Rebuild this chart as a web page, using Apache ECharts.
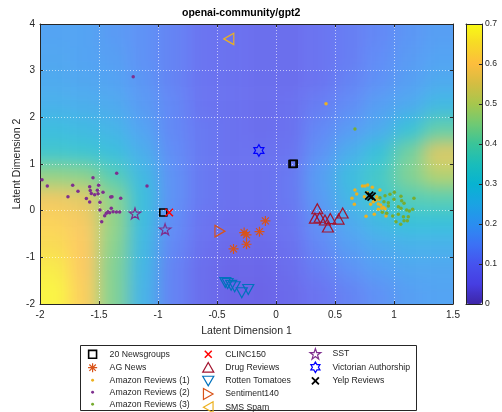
<!DOCTYPE html>
<html>
<head>
<meta charset="utf-8">
<script src="https://cdn.jsdelivr.net/npm/echarts@6/dist/echarts.min.js"></script>
<style>
html,body{margin:0;padding:0;background:#fff;}
#stage{position:relative;width:502px;height:412px;overflow:hidden;background:#fff;}
#bgclip{position:absolute;overflow:hidden;opacity:0.8;}
#bg{position:absolute;filter:blur(9px);}
#main{position:absolute;left:0;top:0;width:502px;height:412px;}
</style>
</head>
<body>
<div id="stage"><div id="bgclip"><div id="bg"></div></div><div id="main"></div></div>
<script>
// ================= DATA =================
const chartTitle = 'openai-community/gpt2';
const xAxisName = 'Latent Dimension 1';
const yAxisName = 'Latent Dimension 2';
const xRange = [-2, 1.5], xStep = 0.5;
const yRange = [-2, 4], yStep = 1;
const colorRange = [0, 0.7], colorStep = 0.1;

// background field: column centres (x) and row centres (y), rows from bottom to top
const fieldX = [-1.875,-1.625,-1.375,-1.125,-0.875,-0.625,-0.375,-0.125,0.125,0.375,0.625,0.875,1.125,1.375];
const fieldY = [-1.75,-1.25,-0.75,-0.25,0.25,0.75,1.25,1.75,2.25,2.75,3.25,3.75];
const fieldRowYm175 = [0.69,0.61,0.44,0.25,0.13,0.08,0.05,0.05,0.07,0.10,0.13,0.16,0.19,0.20];
const fieldRowYm125 = [0.67,0.60,0.44,0.26,0.13,0.08,0.06,0.06,0.08,0.12,0.16,0.19,0.21,0.21];
const fieldRowYm075 = [0.64,0.60,0.45,0.27,0.14,0.09,0.07,0.07,0.09,0.14,0.19,0.22,0.24,0.24];
const fieldRowYm025 = [0.62,0.59,0.46,0.28,0.15,0.10,0.08,0.08,0.10,0.16,0.22,0.27,0.30,0.30];
const fieldRowY025  = [0.58,0.56,0.45,0.29,0.16,0.11,0.09,0.09,0.11,0.18,0.26,0.33,0.38,0.39];
const fieldRowY075  = [0.46,0.45,0.38,0.27,0.16,0.11,0.09,0.09,0.11,0.19,0.28,0.35,0.44,0.50];
const fieldRowY125  = [0.33,0.32,0.29,0.23,0.15,0.11,0.09,0.09,0.10,0.16,0.23,0.30,0.42,0.55];
const fieldRowY175  = [0.28,0.27,0.25,0.20,0.14,0.11,0.09,0.08,0.09,0.14,0.18,0.22,0.30,0.40];
const fieldRowY225  = [0.24,0.23,0.22,0.18,0.14,0.10,0.09,0.08,0.09,0.12,0.15,0.19,0.22,0.27];
const fieldRowY275  = [0.22,0.21,0.20,0.17,0.13,0.10,0.09,0.08,0.08,0.10,0.13,0.16,0.19,0.22];
const fieldRowY325  = [0.21,0.20,0.19,0.16,0.13,0.10,0.09,0.08,0.08,0.10,0.12,0.15,0.18,0.20];
const fieldRowY375  = [0.20,0.20,0.18,0.16,0.13,0.10,0.09,0.08,0.08,0.10,0.12,0.14,0.17,0.19];

// parula-like colour map stops (0 -> 0.7)
const parulaStops = ['#3e26a8','#463ee2','#4653ee','#3b72f5','#2a8ef0','#1aa3e3','#08b3d1','#1abdba',
                     '#3ac499','#70c973','#a6c74d','#d4bd42','#fdbd3d','#f7d926','#f9fb15'];

// scatter series
const ng20 = [[-0.955,-0.04],[0.14,1.0],[0.15,1.005]];
const agNews = [[-0.09,-0.22],[-0.14,-0.45],[-0.27,-0.47],[-0.25,-0.52],[-0.25,-0.72],[-0.36,-0.82]];
const amazon1 = [[0.424,2.29],[0.669,0.443],[0.644,0.264],[0.684,0.357],[0.732,0.529],[0.754,0.529],[0.777,0.55],
  [0.816,0.5],[0.881,0.443],[0.664,0.136],[0.749,0.30],[0.763,-0.12],[0.833,-0.078],[0.802,0.136],[0.825,0.193],
  [0.847,0.229],[0.867,0.143],[0.887,0.121],[0.876,0.243],[0.896,0.05],[0.91,0.071],[0.867,0.029],[0.932,-0.114],
  [0.924,0.043],[0.774,0.386],[0.853,0.30]];
const amazon2 = [[-1.21,2.87],[-1.983,0.66],[-1.938,0.53],[-1.551,0.706],[-1.35,0.80],[-1.723,0.543],[-1.678,0.415],
  [-1.763,0.30],[-1.579,0.514],[-1.503,0.543],[-1.574,0.43],[-1.565,0.37],[-1.537,0.34],[-1.508,0.364],[-1.466,0.393],
  [-1.514,0.44],[-1.607,0.26],[-1.579,0.186],[-1.492,0.18],[-1.401,0.293],[-1.39,0.30],[-1.316,0.264],[-1.093,0.53],
  [-1.492,0.014],[-1.396,0.05],[-1.424,-0.022],[-1.438,-0.057],[-1.452,-0.108],[-1.41,-0.043],[-1.381,-0.022],
  [-1.353,-0.029],[-1.325,-0.029],[-1.477,-0.236]];
const amazon3 = [[0.669,1.75],[0.924,0.32],[0.966,0.35],[1.003,0.393],[1.059,0.307],[1.169,0.264],[0.881,0.279],
  [1.0,0.243],[0.915,0.193],[0.952,0.171],[1.085,0.157],[1.037,0.086],[1.059,0.05],[1.107,0.014],[1.158,0.029],
  [1.13,-0.007],[0.952,0.1],[0.901,-0.036],[0.989,-0.114],[1.037,-0.078],[1.08,-0.129],[1.121,-0.129],[1.017,-0.236],
  [1.085,-0.214],[1.057,-0.293],[1.113,-0.214],[0.938,-0.057],[1.065,0.214]];
const clinc150 = [[-0.905,-0.04]];
const drugReviews = [[0.35,0.04],[0.33,-0.16],[0.37,-0.14],[0.415,-0.2],[0.44,-0.35],[0.46,-0.17],[0.53,-0.18],[0.565,-0.05]];
const rottenTomatoes = [[-0.43,-1.54],[-0.41,-1.56],[-0.38,-1.6],[-0.35,-1.63],[-0.29,-1.76],[-0.235,-1.69]];
const sentiment140 = [[-0.475,-0.44]];
const smsSpam = [[-0.40,3.68]];
const sst = [[-1.195,-0.06],[-0.94,-0.40]];
const victorian = [[-0.145,1.29]];
const yelp = [[0.79,0.32],[0.81,0.30]];

const legendCol1 = ['20 Newsgroups','AG News','Amazon Reviews (1)','Amazon Reviews (2)','Amazon Reviews (3)'];
const legendCol2 = ['CLINC150','Drug Reviews','Rotten Tomatoes','Sentiment140','SMS Spam'];
const legendCol3 = ['SST','Victorian Authorship','Yelp Reviews'];

// ================= LAYOUT / STYLE =================
const plot = {left:40, top:24, width:413, height:280};
const cbar = {left:466, top:24, width:16, height:280};
const axisColor = '#262626';
const fontFam = '"Liberation Sans", Arial, sans-serif';

const P = {
  asterisk: 'path://M0,50 L100,50 M50,0 L50,100 M15,15 L85,85 M85,15 L15,85',
  cross: 'path://M0,0 L100,100 M100,0 L0,100',
  triUp: 'path://M50,0 L100,86.6 L0,86.6 Z',
  triDown: 'path://M0,0 L100,0 L50,86.6 Z',
  triLeft: 'path://M0,50 L86.6,0 L86.6,100 Z',
  triRight: 'path://M0,0 L86.6,50 L0,100 Z',
  penta: 'path://M100,0 L122.45,69.1 L195.1,69.1 L136.3,111.8 L158.8,180.9 L100,138.2 L41.2,180.9 L63.7,111.8 L4.9,69.1 L77.55,69.1 Z',
  hexa: 'path://M100,0 L128.87,50 L186.6,50 L157.7,100 L186.6,150 L128.87,150 L100,200 L71.13,150 L13.4,150 L42.3,100 L13.4,50 L71.13,50 Z'
};
// legend icons: padded to a common 0..100 frame so relative sizes are kept
const L = {
  square: 'path://M0,0 M100,100 M17,17 L83,17 L83,83 L17,83 Z',
  asterisk: 'path://M0,0 M100,100 M12,50 L88,50 M50,12 L50,88 M23,23 L77,77 M77,23 L23,77',
  dot: 'path://M0,0 M100,100 M38,50 A12,12 0 1 1 62,50 A12,12 0 1 1 38,50 Z',
  cross: 'path://M0,0 M100,100 M21,21 L79,79 M79,21 L21,79',
  triUp: 'path://M0,0 M100,100 M50,8 L96,88 L4,88 Z',
  triDown: 'path://M0,0 M100,100 M4,12 L96,12 L50,92 Z',
  triRight: 'path://M0,0 M100,100 M10,4 L90,50 L10,96 Z',
  triLeft: 'path://M0,0 M100,100 M90,4 L10,50 L90,96 Z',
  penta: 'path://M0,0 M100,100 M50,4 L61,37 L95,37 L68,58 L78,92 L50,71 L22,92 L32,58 L5,37 L39,37 Z',
  hexa: 'path://M0,0 M100,100 M50,6 L63,28 L88,28 L75,50 L88,72 L63,72 L50,94 L37,72 L12,72 L25,50 L12,28 L37,28 Z'
};

const seriesDefs = [
  {name:'20 Newsgroups', data:ng20, symbol:'rect', size:7, fill:null, stroke:'#000000', lw:1.6, icon:L.square},
  {name:'AG News', data:agNews, symbol:P.asterisk, size:10, fill:null, stroke:'#d95319', lw:1.2, icon:L.asterisk},
  {name:'Amazon Reviews (1)', data:amazon1, symbol:'circle', size:3.5, fill:'#edb120', stroke:null, lw:0, icon:L.dot},
  {name:'Amazon Reviews (2)', data:amazon2, symbol:'circle', size:3.5, fill:'#7e2f8e', stroke:null, lw:0, icon:L.dot},
  {name:'Amazon Reviews (3)', data:amazon3, symbol:'circle', size:3.5, fill:'#77ac30', stroke:null, lw:0, icon:L.dot},
  {name:'CLINC150', data:clinc150, symbol:P.cross, size:7.5, fill:null, stroke:'#ff0000', lw:1.5, icon:L.cross},
  {name:'Drug Reviews', data:drugReviews, symbol:P.triUp, size:[11,10], fill:null, stroke:'#a2142f', lw:1.2, icon:L.triUp},
  {name:'Rotten Tomatoes', data:rottenTomatoes, symbol:P.triDown, size:[11,10], fill:null, stroke:'#0072bd', lw:1.2, icon:L.triDown},
  {name:'Sentiment140', data:sentiment140, symbol:P.triRight, size:[10,11.5], fill:null, stroke:'#d95319', lw:1.2, icon:L.triRight},
  {name:'SMS Spam', data:smsSpam, symbol:P.triLeft, size:[10,11.5], fill:null, stroke:'#edb120', lw:1.2, icon:L.triLeft},
  {name:'SST', data:sst, symbol:P.penta, size:[11.5,11], fill:null, stroke:'#7e2f8e', lw:1.2, icon:L.penta},
  {name:'Victorian Authorship', data:victorian, symbol:P.hexa, size:[10,11.5], fill:null, stroke:'#0000ff', lw:1.2, icon:L.hexa},
  {name:'Yelp Reviews', data:yelp, symbol:P.cross, size:8, fill:null, stroke:'#000000', lw:1.8, icon:L.cross}
];

// ================= BACKGROUND (blurred heat map) =================
const fieldRows = [fieldRowYm175,fieldRowYm125,fieldRowYm075,fieldRowYm025,fieldRowY025,fieldRowY075,
                   fieldRowY125,fieldRowY175,fieldRowY225,fieldRowY275,fieldRowY325,fieldRowY375];
const PAD = 2;
const nC = fieldX.length, nR = fieldY.length;
const cw = plot.width / nC, ch = plot.height / nR;
const clip = document.getElementById('bgclip');
clip.style.left = plot.left + 'px'; clip.style.top = plot.top + 'px';
clip.style.width = plot.width + 'px'; clip.style.height = plot.height + 'px';
const bgDom = document.getElementById('bg');
bgDom.style.left = (-PAD * cw) + 'px'; bgDom.style.top = (-PAD * ch) + 'px';
bgDom.style.width = ((nC + 2 * PAD) * cw) + 'px'; bgDom.style.height = ((nR + 2 * PAD) * ch) + 'px';

const bgX = [], bgY = [], bgData = [];
for (let i = 0; i < nC + 2 * PAD; i++) bgX.push(String(i));
for (let j = 0; j < nR + 2 * PAD; j++) bgY.push(String(j));
for (let i = 0; i < nC + 2 * PAD; i++) {
  for (let j = 0; j < nR + 2 * PAD; j++) {
    const ci = Math.min(nC - 1, Math.max(0, i - PAD));
    const rj = Math.min(nR - 1, Math.max(0, j - PAD));
    bgData.push([i, j, fieldRows[rj][ci]]);
  }
}
const bgChart = echarts.init(bgDom, null, {renderer:'canvas'});
bgChart.setOption({
  animation:false,
  grid:{left:0, right:0, top:0, bottom:0, outerBoundsMode:'none', containLabel:false},
  xAxis:{type:'category', data:bgX, show:false},
  yAxis:{type:'category', data:bgY, show:false},
  visualMap:{show:false, min:colorRange[0], max:colorRange[1], inRange:{color:parulaStops}},
  series:[{type:'heatmap', data:bgData, itemStyle:{borderWidth:0}, emphasis:{disabled:true}}]
});

// ================= MAIN CHART =================
const chart = echarts.init(document.getElementById('main'), null, {renderer:'canvas'});
const gridLine = {show:true, lineStyle:{color:'rgba(255,255,255,0.6)', type:[1,2], width:1}};
const tick = {show:true, inside:true, length:3, lineStyle:{color:axisColor, width:1}};
const line = {show:true, onZero:false, lineStyle:{color:axisColor, width:1}};
const lab = {color:axisColor, fontSize:10, fontFamily:fontFam};

function legendBlock(names, left) {
  return {
    orient:'vertical', left:left, top:347.5, height:120, padding:0, itemGap:0,
    itemWidth:24, itemHeight:12, selectedMode:false,
    textStyle:{color:axisColor, fontSize:8.7, fontFamily:fontFam, lineHeight:12},
    data:names.map(n => {
      const d = seriesDefs.find(s => s.name === n);
      return {name:n, icon:d.icon, itemStyle:{
        color: d.fill || 'rgba(0,0,0,0)',
        borderColor: d.stroke || 'rgba(0,0,0,0)',
        borderWidth: d.lw
      }};
    })
  };
}

chart.setOption({
  animation:false,
  textStyle:{fontFamily:fontFam},
  grid:[
    {left:plot.left, top:plot.top, width:plot.width, height:plot.height, outerBoundsMode:'none', containLabel:false},
    {left:cbar.left, top:cbar.top, width:cbar.width, height:cbar.height, outerBoundsMode:'none', containLabel:false}
  ],
  xAxis:[
    {gridIndex:0, type:'value', min:xRange[0], max:xRange[1], interval:xStep, position:'bottom',
     axisLine:line, axisTick:tick, axisLabel:Object.assign({margin:6}, lab), splitLine:gridLine,
     name:xAxisName, nameLocation:'middle', nameGap:22, nameMoveOverlap:false,
     nameTextStyle:{color:axisColor, fontSize:10.5, fontFamily:fontFam}},
    {gridIndex:0, type:'value', min:xRange[0], max:xRange[1], interval:xStep, position:'top',
     axisLine:line, axisTick:tick, axisLabel:{show:false}, splitLine:{show:false}},
    {gridIndex:1, type:'value', min:0, max:1, position:'bottom', z:10,
     axisLine:line, axisTick:{show:false}, axisLabel:{show:false}, splitLine:{show:false}},
    {gridIndex:1, type:'value', min:0, max:1, position:'top', z:10,
     axisLine:line, axisTick:{show:false}, axisLabel:{show:false}, splitLine:{show:false}}
  ],
  yAxis:[
    {gridIndex:0, type:'value', min:yRange[0], max:yRange[1], interval:yStep, position:'left',
     axisLine:line, axisTick:tick, axisLabel:Object.assign({margin:5}, lab), splitLine:gridLine,
     name:yAxisName, nameLocation:'middle', nameGap:17, nameMoveOverlap:false,
     nameTextStyle:{color:axisColor, fontSize:10.5, fontFamily:fontFam}},
    {gridIndex:0, type:'value', min:yRange[0], max:yRange[1], interval:yStep, position:'right',
     axisLine:line, axisTick:tick, axisLabel:{show:false}, splitLine:{show:false}},
    {gridIndex:1, type:'value', min:colorRange[0], max:colorRange[1], interval:colorStep, position:'right', z:10,
     axisLine:line, axisTick:tick, axisLabel:{color:axisColor, fontSize:8.6, fontFamily:fontFam, margin:3},
     splitLine:{show:false}},
    {gridIndex:1, type:'value', min:colorRange[0], max:colorRange[1], interval:colorStep, position:'left', z:10,
     axisLine:line, axisTick:{show:false}, axisLabel:{show:false}, splitLine:{show:false}}
  ],
  visualMap:{
    type:'continuous', seriesIndex:[], min:colorRange[0], max:colorRange[1], orient:'vertical',
    left:cbar.left, top:cbar.top, itemWidth:cbar.width, itemHeight:cbar.height, padding:0,
    calculable:false, realtime:false, text:null, inRange:{color:parulaStops}, hoverLink:false
  },
  legend:[
    legendBlock(legendCol1, 85.8),
    legendBlock(legendCol2, 201.5),
    legendBlock(legendCol3, 308.5)
  ],
  graphic:[
    {type:'text', left:244 - 62, top:8, style:{text:chartTitle, fill:'#000', font:'bold 10.5px ' + fontFam}},
    {type:'rect', shape:{x:80.5, y:345.5, width:336, height:65}, style:{fill:'#ffffff', stroke:axisColor, lineWidth:1}, z:-1}
  ],
  series: seriesDefs.map(d => ({
    type:'scatter', name:d.name, data:d.data, xAxisIndex:0, yAxisIndex:0,
    symbol:d.symbol, symbolSize:d.size, z:3,
    itemStyle:{color:d.fill || 'rgba(0,0,0,0)', borderColor:d.stroke || 'rgba(0,0,0,0)', borderWidth:d.lw, opacity:1},
    emphasis:{disabled:true}
  }))
});
</script>
</body>
</html>
